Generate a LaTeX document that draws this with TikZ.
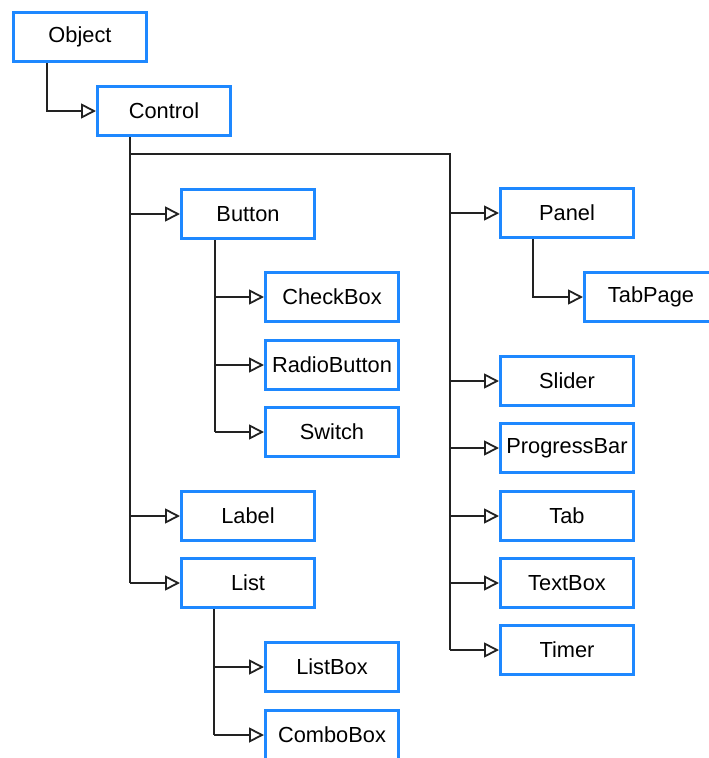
\documentclass[tikz,border=0pt]{standalone}
\usepackage{fontspec}
\setmainfont{Liberation Sans}
\usetikzlibrary{arrows.meta}
\definecolor{boxblue}{RGB}{30,136,255}
\definecolor{linegray}{RGB}{34,34,34}
\tikzset{
  cls/.style={draw=boxblue, line width=3pt, fill=white, inner sep=0pt,
    minimum width=133pt, minimum height=49pt, font=\fontsize{21.8}{24}\selectfont},
  inh/.style={draw=linegray, line width=1.6pt,
    -{Triangle[open, length=15pt, width=15pt, line width=1.8pt]}},
  trunk/.style={draw=linegray, line width=1.6pt}
}
\begin{document}
\begin{tikzpicture}[x=1pt, y=-1pt]
  \path[use as bounding box] (0,0) rectangle (709,758);
  \clip (0,0) rectangle (709,758);
  \fill[white] (0,0) rectangle (709,758);

  % class boxes
  \node[cls] (object)   at (80,37)   {Object};
  \node[cls] (control)  at (164,111) {Control};
  \node[cls] (button)   at (248,214) {Button};
  \node[cls] (checkbox) at (332,297) {CheckBox};
  \node[cls] (radio)    at (332,365) {RadioButton};
  \node[cls] (switch)   at (332,432) {Switch};
  \node[cls] (label)    at (248,516) {Label};
  \node[cls] (list)     at (248,583) {List};
  \node[cls] (listbox)  at (332,667) {ListBox};
  \node[cls] (combo)    at (332,735) {ComboBox};
  \node[cls] (panel)    at (567,213) {Panel};
  \node[cls] (tabpage)  at (651,297) {TabPage};
  \node[cls] (slider)   at (567,381) {Slider};
  \node[cls] (progress) at (567,448) {ProgressBar};
  \node[cls] (tab)      at (567,516) {Tab};
  \node[cls] (textbox)  at (567,583) {TextBox};
  \node[cls] (timer)    at (567,650) {Timer};

  % trunk positions
  \coordinate (xobj) at (47,0);
  \coordinate (xctl) at (130,0);
  \coordinate (xbtn) at (215,0);
  \coordinate (xlst) at (214,0);
  \coordinate (xpnl) at (533,0);
  \coordinate (xrgt) at (450,0);
  \coordinate (ysplit) at (0,154);

  % Object -> Control
  \draw[inh] (xobj |- object.south) |- (control.west);

  % Control, left column
  \draw[trunk] (xctl |- control.south) -- (xctl |- list);
  \draw[inh] (xctl |- button) -- (button.west);
  \draw[inh] (xctl |- label) -- (label.west);
  \draw[inh] (xctl |- list) -- (list.west);

  % Control, right column
  \draw[trunk] (xctl |- ysplit) -- (xrgt |- ysplit) -- (xrgt |- timer);
  \draw[inh] (xrgt |- panel) -- (panel.west);
  \draw[inh] (xrgt |- slider) -- (slider.west);
  \draw[inh] (xrgt |- progress) -- (progress.west);
  \draw[inh] (xrgt |- tab) -- (tab.west);
  \draw[inh] (xrgt |- textbox) -- (textbox.west);
  \draw[inh] (xrgt |- timer) -- (timer.west);

  % Button subclasses
  \draw[trunk] (xbtn |- button.south) -- (xbtn |- switch);
  \draw[inh] (xbtn |- checkbox) -- (checkbox.west);
  \draw[inh] (xbtn |- radio) -- (radio.west);
  \draw[inh] (xbtn |- switch) -- (switch.west);

  % Panel subclass
  \draw[inh] (xpnl |- panel.south) |- (tabpage.west);

  % List subclasses
  \draw[trunk] (xlst |- list.south) -- (xlst |- combo);
  \draw[inh] (xlst |- listbox) -- (listbox.west);
  \draw[inh] (xlst |- combo) -- (combo.west);
\end{tikzpicture}
\end{document}
